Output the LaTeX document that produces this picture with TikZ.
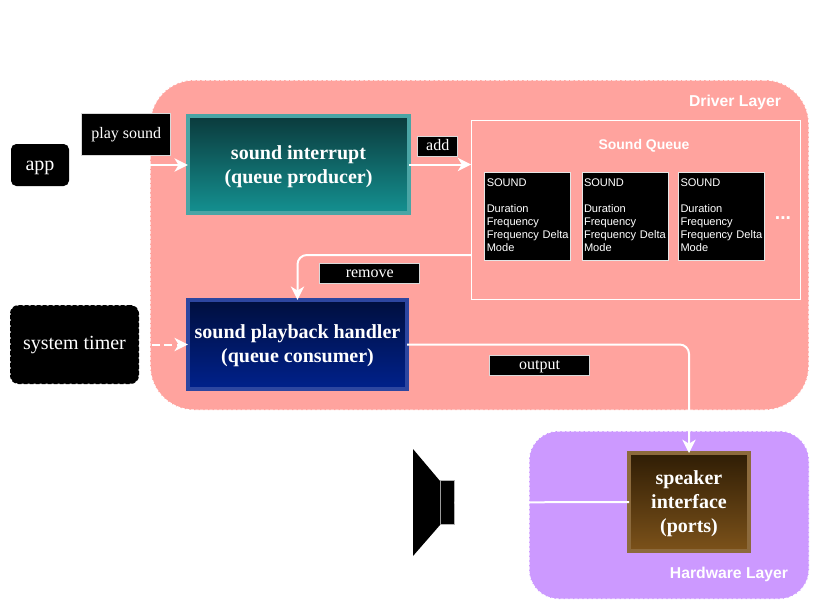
\documentclass[tikz,border=0pt]{standalone}
\usepackage{fontspec}
\setmainfont{Liberation Serif}
\setsansfont{Liberation Sans}
\usetikzlibrary{arrows.meta}
\definecolor{driverpink}{HTML}{FFA39E}
\definecolor{hardwarepurple}{HTML}{CC99FF}
\newcommand{\handlerstrut}[1][13.5pt]{\rule{0pt}{#1}}
\begin{document}
\begin{tikzpicture}[x=0.75pt,y=-0.75pt]
    \tikzstyle{layer}=[draw=white,line width=0.75pt,dash pattern=on 2.5pt off 1pt]
    \tikzstyle{layer label}=[text=white,font=\sffamily\bfseries\fontsize{11.8}{14}\selectfont]
    \tikzstyle{black box}=[fill=black,draw=white,line width=0.75pt,text=white,inner sep=0pt]
    \tikzstyle{source}=[black box,text height=10pt,text depth=2pt,font=\fontsize{15}{17}\selectfont]
    \tikzstyle{tag}=[black box,draw=white!85!black,font=\fontsize{12}{14}\selectfont]
    \tikzstyle{short tag}=[tag,minimum height=15pt,text height=9pt,text depth=2pt]
    \tikzstyle{handler}=[line width=3pt,outer sep=0pt,text=white,align=center,inner sep=0pt,font=\bfseries\fontsize{15}{18}\selectfont]
    \tikzstyle{sound}=[black box,draw=white!90!black,minimum width=64.5pt,minimum height=66pt,text width=61.5pt,align=left,font=\sffamily\fontsize{8.3}{9.75}\selectfont]
    \tikzstyle{link}=[draw=white,line width=1.5pt,-{Stealth[length=10pt,width=10pt,inset=3pt]}]

    \useasboundingbox (0,0) rectangle (826,601);

    % layers in the back
    \node[layer,fill=driverpink,rounded corners=33pt,minimum width=494pt,minimum height=247.5pt] (driver) at (479.5,245) {};
    \node[layer,fill=hardwarepurple,rounded corners=22pt,minimum width=210pt,minimum height=126pt] (hardware) at (669,515) {};
    \node[layer label] (driver-label) at (735,102) {Driver Layer};
    \node[layer label] (hardware-label) at (729,574.5) {Hardware Layer};

    % sources on the left
    \node[source,draw=none,rounded corners=4pt,minimum width=43.5pt,minimum height=31.5pt] (app) at (40,165) {app};
    \node[source,draw=black,dash pattern=on 3pt off 1.5pt,rounded corners=6pt,minimum width=96pt,minimum height=58.5pt] (timer) at (74.5,344.5) {system timer};

    % the handlers
    \node[handler,draw={rgb,255:red,74;green,165;blue,165},top color={rgb,255:red,11;green,58;blue,60},bottom color={rgb,255:red,20;green,145;blue,145},minimum width=166pt,minimum height=73pt] (interrupt) at (298.5,164.5) {\handlerstrut sound interrupt\\(queue producer)};
    \node[handler,draw={rgb,255:red,45;green,70;blue,160},top color={rgb,255:red,0;green,15;blue,62},bottom color={rgb,255:red,0;green,33;blue,140},minimum width=164.5pt,minimum height=67pt] (playback) at (297.5,344.5) {\handlerstrut[12pt]sound playback handler\\(queue consumer)};
    \node[handler,draw={rgb,255:red,140;green,106;blue,60},top color={rgb,255:red,47;green,29;blue,5},bottom color={rgb,255:red,124;green,82;blue,26},minimum width=90pt,minimum height=73.5pt] (ports) at (689,502) {\handlerstrut speaker\\interface\\(ports)};

    % sound queue
    \node[draw=white,line width=0.75pt,minimum width=247pt,minimum height=134.5pt] (queue) at (636.25,210.25) {};
    \node[text=white,font=\sffamily\bfseries\fontsize{10.5}{12}\selectfont] (queue-label) at (644,145.5) {Sound Queue};
    \foreach \name/\x in {sound1/527.75,sound2/625,sound3/721.5}
        \node[sound] (\name) at (\x,216) {SOUND\\[9.75pt]Duration\\Frequency\\Frequency Delta\\Mode\rule[-1.5pt]{0pt}{0pt}};
    \node[text=white,font=\sffamily\bfseries\fontsize{14.5}{16}\selectfont] (more) at (783,218) {...};

    % speaker
    \node[black box,draw=white!70!black,minimum width=10pt,minimum height=32.5pt] (speaker) at (447.5,502.5) {};
    \fill[black] (413,449) -- (440,481) -- (440,525) -- (413,556) -- cycle;

    % connectors
    \coordinate (queue-out) at (471.5,255);
    \draw[link] (app.east) -- (app.east -| interrupt.west);
    \draw[link,dash pattern=on 6pt off 3.5pt] (timer.east) -- (playback.west);
    \draw[link] (interrupt.east) -- (interrupt.east -| queue.west);
    \draw[link,rounded corners=7pt] (queue-out) -| (playback.north);
    \draw[link,rounded corners=7pt] (playback.east) -| (ports.north);
    \draw[draw=white,line width=1.5pt] (ports.west) -- (speaker.east);

    % connector labels
    \node[tag,minimum width=67pt,minimum height=32pt] (play) at (126.25,134.5) {\raisebox{3pt}{play sound}};
    \node[short tag,minimum width=30pt] (add) at (437.75,146) {add};
    \node[short tag,minimum width=75pt] (remove) at (369.75,273) {remove};
    \node[short tag,minimum width=74.5pt] (output) at (539.5,365) {output};
\end{tikzpicture}
\end{document}
